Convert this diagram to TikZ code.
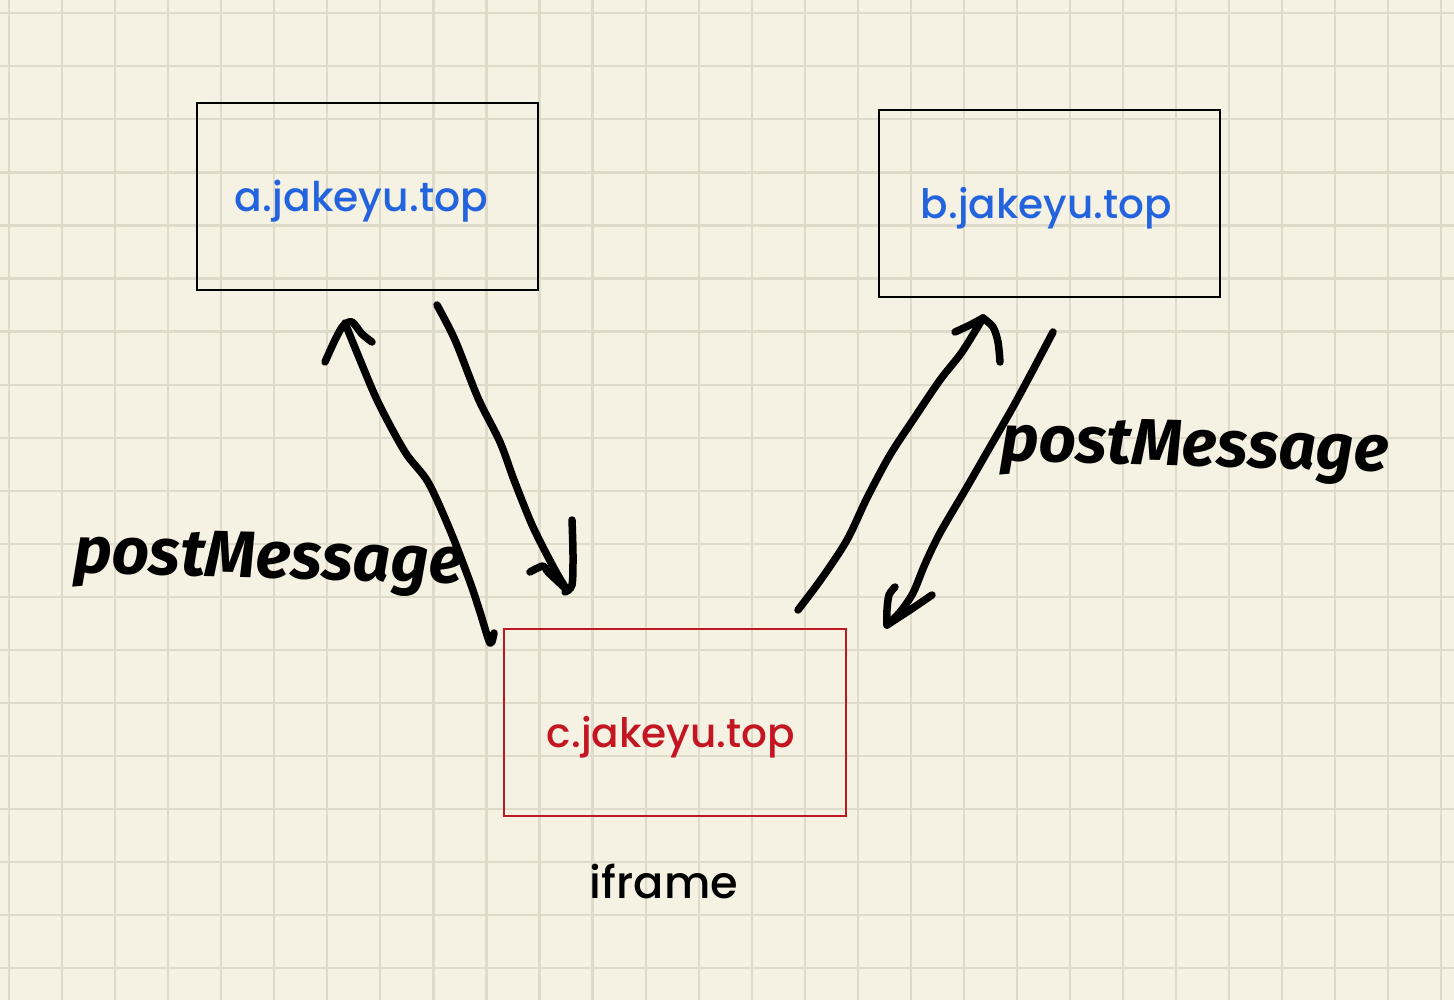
\documentclass[tikz,border=0pt]{standalone}
\usepackage{fontspec}
\newfontfamily\comicfont{Poppins Medium}
\newfontfamily\handfont{Fira Sans}
\definecolor{paper}{RGB}{245,242,228}
\definecolor{gridc}{RGB}{223,219,203}
\definecolor{labelblue}{RGB}{35,100,222}
\definecolor{labelred}{RGB}{196,22,34}
\definecolor{boxred}{RGB}{190,25,35}
\begin{document}
\begin{tikzpicture}[x=1pt,y=-1pt,
  gridline/.style={draw=gridc, line width=2.2pt},
  site/.style={draw=black, line width=2.6pt, minimum width=341pt, minimum height=187pt, inner sep=0pt},
  frame/.style={draw=boxred, line width=2.4pt, minimum width=342pt, minimum height=187pt, inner sep=0pt},
  label/.style={inner sep=0pt, anchor=base},
  hand/.style={inner sep=0pt, anchor=base, font=\handfont\bfseries\itshape, rotate=-1.5},
  pen/.style={line width=7.5pt, line cap=round, line join=round},
]
\useasboundingbox[fill=paper] (0,0) rectangle (1454,1000);
% grid
\foreach \gx in {0,...,27} \draw[gridline] ({9+53.05*\gx},0) -- ({9+53.05*\gx},1000);
\foreach \gy in {0,...,18} \draw[gridline] (0,{13.3+53.05*\gy}) -- (1454,{13.3+53.05*\gy});
% boxes
\node[site] (boxa) at (367.5,196.5) {};
\node[site] (boxb) at (1049.5,203.5) {};
\node[frame] (boxc) at (675,722.5) {};
% labels
\node[label, text=labelblue] (la) at (361.5,212) {\resizebox{253pt}{!}{\comicfont a.jakeyu.top}};
\node[label, text=labelblue] (lb) at (1046.5,219) {\resizebox{251pt}{!}{\comicfont b.jakeyu.top}};
\node[label, text=labelred] (lc) at (671,747) {\resizebox{248pt}{!}{\comicfont c.jakeyu.top}};
\node[label, text=black] (lif) at (664,898) {\resizebox{148pt}{!}{\comicfont iframe}};
\node[hand] (pml) at (268,578) {\resizebox{390pt}{!}{postMessage}};
\node[hand] (pmr) at (1194,466) {\resizebox{388pt}{!}{postMessage}};
% arrow c -> a
\coordinate (c1) at (490,643);
\coordinate (a1) at (345,323);
\draw[pen] plot[smooth, tension=0.5] coordinates {(494,633) (c1) (480,612) (470,582) (450,530) (428,482) (405,452) (378,402) (358,355) (a1)};
\draw[pen] plot[smooth] coordinates {(325,362) (335,340) (343,326) (352,322) (362,334) (372,342)};
% arrow a -> c
\coordinate (a2) at (437,305);
\coordinate (c2) at (567,590);
\draw[pen] plot[smooth, tension=0.5] coordinates {(a2) (455,340) (478,398) (500,442) (514,480) (533,527) (555,570) (c2)};
\draw[pen] plot[smooth] coordinates {(572,520) (573,555) (572,585) (565,592)};
\draw[pen] plot[smooth] coordinates {(530,572) (543,566) (548,572) (c2)};
% arrow c -> b
\coordinate (c3) at (798,610);
\coordinate (b3) at (983,318);
\draw[pen] plot[smooth, tension=0.5] coordinates {(c3) (822,578) (847,540) (867,498) (890,455) (915,417) (940,380) (962,352) (b3)};
\draw[pen] plot[smooth] coordinates {(955,332) (970,325) (b3)};
\draw[pen] plot[smooth] coordinates {(b3) (993,327) (998,342) (1000,362)};
% arrow b -> c
\coordinate (b4) at (1053,332);
\coordinate (c4) at (887,625);
\draw[pen] plot[smooth, tension=0.5] coordinates {(b4) (1033,370) (1013,407) (990,447) (967,487) (940,533) (925,564) (913,593) (900,612) (c4)};
\draw[pen] plot[smooth] coordinates {(895,587) (889,595) (887,610) (c4)};
\draw[pen] plot[smooth] coordinates {(932,595) (910,610) (c4)};
\end{tikzpicture}
\end{document}
